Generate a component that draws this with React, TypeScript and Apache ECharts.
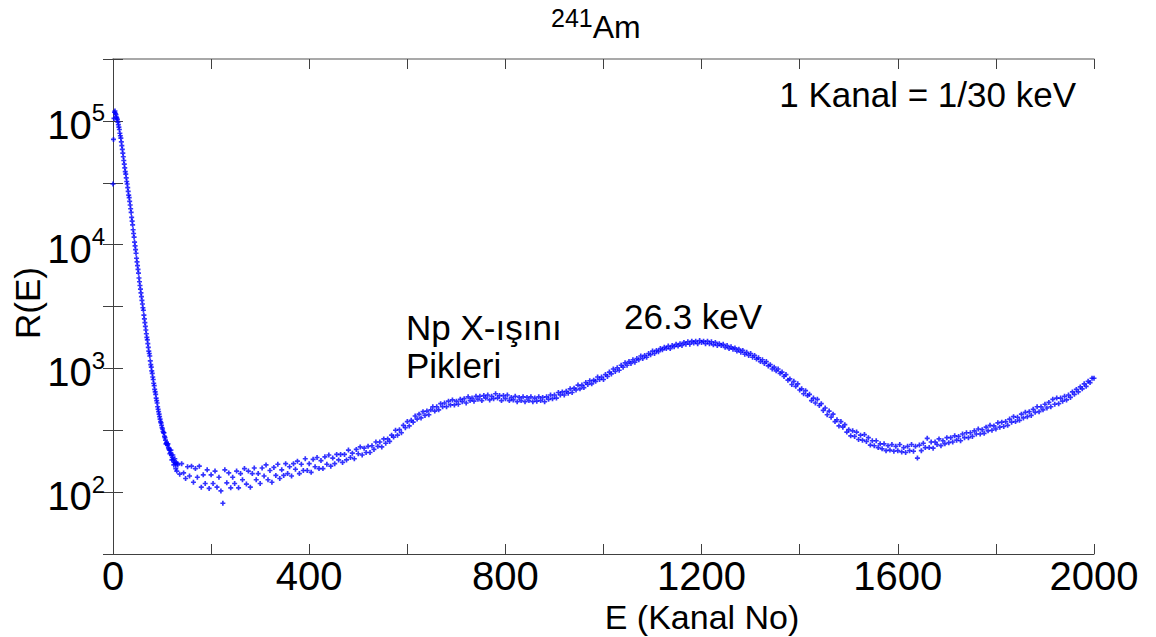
import React, { useEffect, useRef } from "react";
import * as echarts from "echarts";

// ---------------- data (values are log10 R(E)) ----------------
// Early steep descent: one value per channel, channels 0..131
const earlyStartChannel = 0;
const earlyLog10R = [
  4.49, 4.85, 5.02, 5.07, 5.08, 5.06, 5.05, 5.03, 5.02, 5.01,
  4.99, 4.97, 4.95, 4.93, 4.9, 4.88, 4.86, 4.83, 4.8, 4.77,
  4.74, 4.71, 4.68, 4.65, 4.62, 4.59, 4.57, 4.54, 4.51, 4.49,
  4.46, 4.43, 4.4, 4.38, 4.35, 4.32, 4.29, 4.26, 4.22, 4.19,
  4.16, 4.12, 4.09, 4.06, 4.02, 3.99, 3.96, 3.93, 3.89, 3.86,
  3.83, 3.8, 3.77, 3.73, 3.7, 3.67, 3.64, 3.61, 3.58, 3.55,
  3.52, 3.49, 3.47, 3.43, 3.4, 3.37, 3.34, 3.31, 3.28, 3.25,
  3.23, 3.2, 3.17, 3.14, 3.12, 3.1, 3.06, 3.03, 3.01, 2.98,
  2.96, 2.93, 2.91, 2.88, 2.86, 2.83, 2.81, 2.79, 2.76, 2.74,
  2.72, 2.69, 2.67, 2.65, 2.63, 2.61, 2.59, 2.57, 2.56, 2.54,
  2.52, 2.51, 2.49, 2.48, 2.48, 2.45, 2.44, 2.42, 2.39, 2.4,
  2.39, 2.38, 2.39, 2.36, 2.35, 2.34, 2.31, 2.32, 2.34, 2.3,
  2.26, 2.28, 2.3, 2.26, 2.22, 2.24, 2.27, 2.23, 2.19, 2.24,
  2.17, 2.23,
];

// Rest of the spectrum: one value every 4 channels, channels 132..2000
const tailStartChannel = 132;
const tailChannelStep = 4;
const tailLog10R = [
  /* 132 */ 2.22, 2.145, 2.23, 2.155, 2.11, 2.205, 2.13, 2.21, 2.08, 2.19,
  /* 172 */ 2.12, 2.21, 2.04, 2.14, 2.07, 2.18, 2.03, 2.14, 2.07, 2.17,
  /* 212 */ 2.04, 2.12, 2.01, 1.91, 2.18, 2.075, 2.155, 2.035, 2.12, 2.07,
  /* 252 */ 2.17, 2.035, 2.15, 2.1, 2.19, 2.065, 2.17, 2.04, 2.15, 2.195,
  /* 292 */ 2.1, 2.15, 2.07, 2.195, 2.13, 2.22, 2.1, 2.175, 2.08, 2.2,
  /* 332 */ 2.135, 2.225, 2.11, 2.18, 2.135, 2.23, 2.15, 2.205, 2.13, 2.23,
  /* 372 */ 2.185, 2.25, 2.15, 2.225, 2.175, 2.27, 2.175, 2.23, 2.16, 2.265,
  /* 412 */ 2.205, 2.28, 2.19, 2.255, 2.19, 2.285, 2.225, 2.3, 2.21, 2.275,
  /* 452 */ 2.23, 2.305, 2.26, 2.305, 2.24, 2.305, 2.26, 2.34, 2.28, 2.315,
  /* 492 */ 2.27, 2.345, 2.31, 2.365, 2.3, 2.355, 2.32, 2.37, 2.32, 2.375,
  /* 532 */ 2.345, 2.405, 2.37, 2.405, 2.365, 2.43, 2.395, 2.43, 2.41, 2.46,
  /* 572 */ 2.445, 2.5, 2.46, 2.505, 2.48, 2.54, 2.52, 2.57, 2.535, 2.58,
  /* 612 */ 2.565, 2.615, 2.59, 2.63, 2.6, 2.65, 2.62, 2.655, 2.625, 2.665,
  /* 652 */ 2.69, 2.655, 2.69, 2.665, 2.715, 2.69, 2.72, 2.69, 2.735, 2.705,
  /* 692 */ 2.745, 2.705, 2.735, 2.71, 2.75, 2.73, 2.755, 2.72, 2.77, 2.74,
  /* 732 */ 2.76, 2.735, 2.775, 2.75, 2.775, 2.74, 2.78, 2.76, 2.785, 2.745,
  /* 772 */ 2.775, 2.755, 2.795, 2.76, 2.78, 2.74, 2.78, 2.755, 2.785, 2.74,
  /* 812 */ 2.765, 2.745, 2.775, 2.73, 2.765, 2.74, 2.77, 2.73, 2.765, 2.74,
  /* 852 */ 2.77, 2.73, 2.76, 2.735, 2.77, 2.74, 2.765, 2.73, 2.77, 2.75,
  /* 892 */ 2.785, 2.755, 2.785, 2.76, 2.805, 2.785, 2.81, 2.785, 2.815, 2.8,
  /* 932 */ 2.835, 2.805, 2.84, 2.825, 2.865, 2.835, 2.865, 2.845, 2.885, 2.87,
  /* 972 */ 2.9, 2.875, 2.905, 2.895, 2.93, 2.91, 2.93, 2.91, 2.95, 2.935,
  /* 1012 */ 2.97, 2.955, 2.995, 2.975, 3.005, 2.985, 3.025, 3.01, 3.045, 3.025,
  /* 1052 */ 3.055, 3.04, 3.07, 3.05, 3.08, 3.07, 3.1, 3.08, 3.105, 3.09,
  /* 1092 */ 3.12, 3.11, 3.14, 3.12, 3.145, 3.135, 3.16, 3.15, 3.17, 3.16,
  /* 1132 */ 3.18, 3.16, 3.185, 3.175, 3.195, 3.18, 3.2, 3.185, 3.21, 3.195,
  /* 1172 */ 3.215, 3.195, 3.22, 3.205, 3.22, 3.2, 3.225, 3.21, 3.22, 3.2,
  /* 1212 */ 3.22, 3.2, 3.215, 3.19, 3.21, 3.185, 3.2, 3.185, 3.195, 3.17,
  /* 1252 */ 3.185, 3.16, 3.175, 3.155, 3.165, 3.14, 3.155, 3.13, 3.145, 3.115,
  /* 1292 */ 3.13, 3.105, 3.12, 3.09, 3.105, 3.075, 3.085, 3.055, 3.07, 3.04,
  /* 1332 */ 3.055, 3.02, 3.03, 2.995, 3.01, 2.98, 2.995, 2.96, 2.97, 2.935,
  /* 1372 */ 2.95, 2.905, 2.915, 2.87, 2.895, 2.855, 2.875, 2.825, 2.835, 2.795,
  /* 1412 */ 2.82, 2.78, 2.79, 2.74, 2.76, 2.72, 2.75, 2.7, 2.715, 2.66,
  /* 1452 */ 2.68, 2.625, 2.655, 2.605, 2.63, 2.57, 2.585, 2.535, 2.57, 2.525,
  /* 1492 */ 2.545, 2.485, 2.505, 2.455, 2.495, 2.45, 2.485, 2.425, 2.46, 2.42,
  /* 1532 */ 2.465, 2.41, 2.44, 2.38, 2.415, 2.375, 2.415, 2.36, 2.39, 2.35,
  /* 1572 */ 2.39, 2.335, 2.375, 2.34, 2.385, 2.33, 2.37, 2.335, 2.385, 2.325,
  /* 1612 */ 2.36, 2.32, 2.37, 2.335, 2.385, 2.33, 2.37, 2.275, 2.38, 2.335,
  /* 1652 */ 2.395, 2.36, 2.435, 2.36, 2.405, 2.355, 2.405, 2.385, 2.43, 2.375,
  /* 1692 */ 2.415, 2.39, 2.44, 2.4, 2.44, 2.405, 2.455, 2.42, 2.45, 2.415,
  /* 1732 */ 2.47, 2.44, 2.48, 2.44, 2.48, 2.45, 2.495, 2.47, 2.51, 2.47,
  /* 1772 */ 2.505, 2.475, 2.525, 2.495, 2.54, 2.5, 2.535, 2.51, 2.56, 2.525,
  /* 1812 */ 2.565, 2.53, 2.57, 2.54, 2.59, 2.565, 2.61, 2.57, 2.605, 2.58,
  /* 1852 */ 2.63, 2.6, 2.645, 2.61, 2.65, 2.62, 2.67, 2.645, 2.69, 2.65,
  /* 1892 */ 2.69, 2.665, 2.71, 2.68, 2.725, 2.69, 2.75, 2.71, 2.76, 2.715,
  /* 1932 */ 2.76, 2.735, 2.775, 2.745, 2.785, 2.765, 2.81, 2.79, 2.83, 2.81,
  /* 1972 */ 2.85, 2.835, 2.875, 2.855, 2.895, 2.885, 2.92, 2.92,
];

const xMin = 0;
const xMax = 2000;
const xTickStep = 200;
const xLabelStep = 400;
const yMinLog = 1.5;
const yMaxLog = 5.5;
const yTickStep = 0.5;
const yLabelDecades = [2, 3, 4, 5];

const titleMass = "241";
const titleElement = "Am";
const xAxisTitle = "E (Kanal No)";
const yAxisTitle = "R(E)";
const noteChannel = "1 Kanal = 1/30 keV";
const noteNpLine1 = "Np X-ışını";
const noteNpLine2 = "Pikleri";
const notePeak = "26.3 keV";

// ---------------- chart ----------------
const FONT = "'Liberation Sans', Arial, Helvetica, sans-serif";
const AXIS_COLOR = "#404040";
const NOTE_FS = 35;
const MID = (fs: number) => 0.3465 * fs; // alphabetic baseline offset from central

function buildPoints(): number[][] {
  const pts: number[][] = [];
  earlyLog10R.forEach((v, i) => pts.push([earlyStartChannel + i, v]));
  tailLog10R.forEach((v, i) => pts.push([tailStartChannel + i * tailChannelStep, v]));
  return pts;
}

function noteText(text: string, x: number, baseline: number, align: string, fs: number = NOTE_FS) {
  return {
    type: "text",
    x,
    y: baseline - MID(fs),
    style: {
      text,
      fontFamily: FONT,
      fontSize: fs,
      fontWeight: "normal",
      lineHeight: 30,
      fill: "#000",
      align,
      verticalAlign: "middle",
    },
  };
}

function buildOption(): any {
  const tickStyle = { show: true, inside: true, length: 10, lineStyle: { color: AXIS_COLOR, width: 1 } };
  const xCommon = { type: "value", min: xMin, max: xMax, interval: xTickStep, splitLine: { show: false } };
  const yCommon = { type: "value", min: yMinLog, max: yMaxLog, interval: yTickStep, splitLine: { show: false } };
  return {
    animation: false,
    backgroundColor: "#ffffff",
    title: {
      text: `{s|${titleMass}}{b|${titleElement}}`,
      left: 551,
      top: 5,
      padding: 0,
      textStyle: {
        fontFamily: FONT,
        fontWeight: "normal",
        rich: {
          s: { fontFamily: FONT, fontWeight: "normal", fontSize: 25, lineHeight: 25, color: "#000", verticalAlign: "top" },
          b: { fontFamily: FONT, fontWeight: "normal", fontSize: 32, lineHeight: 32, color: "#000", padding: [11, 0, 0, 0] },
        },
      },
    },
    grid: { left: 113, top: 59, right: 62, bottom: 83, containLabel: false },
    xAxis: [
      {
        ...xCommon,
        position: "bottom",
        axisLine: { show: true, lineStyle: { color: AXIS_COLOR, width: 1 } },
        axisTick: tickStyle,
        axisLabel: {
          show: true,
          margin: 5,
          fontFamily: FONT,
          fontSize: 40,
          lineHeight: 34,
          color: "#000",
          formatter: (v: number) => (v % xLabelStep === 0 ? String(v) : ""),
        },
      },
      {
        ...xCommon,
        position: "top",
        axisLine: { show: true, lineStyle: { color: "#8c8c8c", width: 1.5 } },
        axisTick: tickStyle,
        axisLabel: { show: false },
      },
    ],
    yAxis: [
      {
        ...yCommon,
        position: "left",
        axisLine: { show: true, lineStyle: { color: AXIS_COLOR, width: 1 } },
        axisTick: tickStyle,
        axisLabel: {
          show: true,
          margin: 8,
          formatter: (v: number) => (yLabelDecades.includes(v) ? `{b|10}{s|${v}}` : ""),
          rich: {
            b: { fontFamily: FONT, fontSize: 40, lineHeight: 40, color: "#000", padding: [8, 0, 0, 0] },
            s: { fontFamily: FONT, fontSize: 24, lineHeight: 24, color: "#000", verticalAlign: "top" },
          },
        },
      },
      {
        ...yCommon,
        position: "right",
        axisLine: { show: true, lineStyle: { color: AXIS_COLOR, width: 1 } },
        axisTick: tickStyle,
        axisLabel: { show: false },
      },
    ],
    graphic: [
      noteText(noteChannel, 1076, 107, "right"),
      noteText(noteNpLine1, 406, 340, "left"),
      noteText(noteNpLine2, 406, 378, "left"),
      noteText(notePeak, 624, 329, "left"),
      noteText(xAxisTitle, 702, 629, "center", 34),
      {
        type: "text",
        x: 27,
        y: 303,
        rotation: Math.PI / 2,
        style: {
          text: yAxisTitle,
          fontFamily: FONT,
          fontSize: NOTE_FS,
          fill: "#000",
          align: "center",
          verticalAlign: "middle",
        },
      },
    ],
    series: [
      {
        type: "scatter",
        xAxisIndex: 0,
        yAxisIndex: 0,
        data: buildPoints(),
        symbol: "path://M1,0H2V1H3V2H2V3H1V2H0V1H1Z",
        symbolSize: 5,
        itemStyle: { color: "#0000ff" },
        silent: true,
        clip: true,
      },
    ],
  };
}

export default function App() {
  const ref = useRef<HTMLDivElement>(null);
  useEffect(() => {
    if (!ref.current) return;
    const chart = echarts.init(ref.current, null, { renderer: "svg" });
    chart.setOption(buildOption());
    return () => chart.dispose();
  }, []);
  return (
    <div
      ref={ref}
      style={{ position: "fixed", left: 0, top: 0, width: 1156, height: 637, background: "#fff" }}
    />
  );
}
